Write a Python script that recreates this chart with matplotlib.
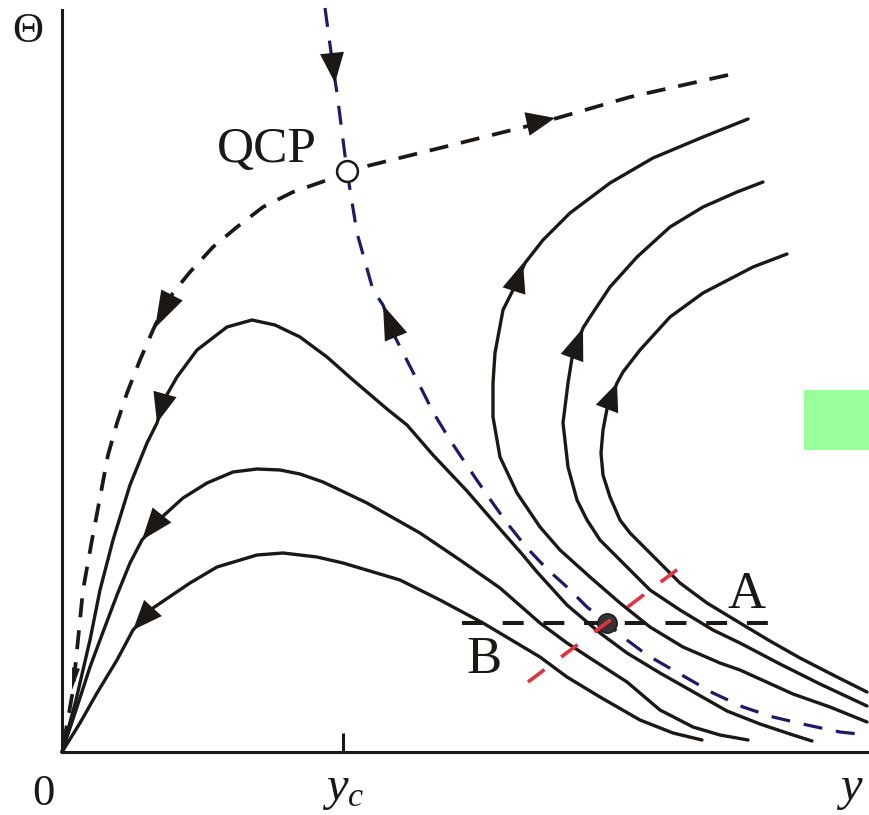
import numpy as np
import matplotlib
matplotlib.use('Agg')
import matplotlib.pyplot as plt
from matplotlib.patches import Polygon, Rectangle

plt.rcParams['font.family'] = ['Liberation Serif', 'DejaVu Serif']
plt.rcParams['mathtext.fontset'] = 'custom'
plt.rcParams['mathtext.rm'] = 'Liberation Serif'
plt.rcParams['mathtext.it'] = 'Liberation Serif:italic'
plt.rcParams['lines.scale_dashes'] = False

# flow diagram in the (y, Theta) plane
y_c = 281
y_end = 807
theta_top = 742
qcp = (285, 581)
fixed_pt = (545, 129)

# separatrix through QCP (blue, dashed)
sep_blue = np.array([
    (263, 744), (271, 685), (275, 659), (285, 581), (295, 519), (311, 462),
    (321, 447), (333, 415), (355, 372), (371, 340), (388, 312), (408, 282),
    (425, 257), (445, 229), (465, 204), (486, 182), (505, 165), (525, 145),
    (545, 129), (565, 112), (585, 97), (611, 82), (651, 59), (681, 45),
    (711, 35), (745, 27), (778, 20), (806, 17)])

# second separatrix through QCP (black, dashed)
sep_black = np.array([
    (666, 677), (568, 655), (478, 629), (378, 604), (285, 581), (271, 574),
    (231, 560), (201, 545), (175, 525), (151, 505), (128, 480), (111, 459),
    (98, 437), (91, 422), (78, 392), (65, 359), (55, 329), (46, 297),
    (40, 265), (30, 212), (21, 162), (16, 112), (11, 62), (4, 22), (0, 0)])

# flows running into the origin
hump1 = np.array([
    (750, 11), (728, 18), (698, 28), (665, 41), (628, 62), (598, 79),
    (565, 99), (538, 119), (505, 147), (475, 180), (460, 198), (438, 223),
    (405, 261), (371, 297), (345, 327), (325, 343), (291, 372), (265, 395),
    (238, 415), (213, 427), (190, 432), (165, 425), (135, 402), (115, 375),
    (103, 354), (95, 329), (85, 309), (68, 267), (51, 212), (38, 162),
    (28, 112), (14, 52), (0, 0)])
hump2 = np.array([
    (686, 12), (658, 17), (631, 25), (598, 42), (565, 70), (531, 92),
    (505, 109), (478, 129), (438, 164), (398, 192), (358, 219), (305, 249),
    (261, 270), (238, 278), (218, 282), (195, 283), (171, 280), (145, 269),
    (121, 254), (100, 235), (80, 212), (68, 189), (55, 157), (41, 120),
    (28, 85), (15, 45), (0, 0)])
hump3 = np.array([
    (640, 12), (611, 19), (578, 32), (538, 55), (505, 75), (478, 95),
    (421, 129), (378, 152), (338, 172), (281, 189), (255, 195), (221, 199),
    (195, 197), (155, 185), (128, 169), (91, 144), (71, 122), (55, 92),
    (35, 59), (18, 29), (0, 0)])

# flows turning back up on the other side
turn1 = np.array([
    (805, 30), (768, 45), (731, 58), (678, 82), (658, 89), (621, 105),
    (588, 125), (558, 149), (528, 175), (498, 202), (478, 225), (455, 259),
    (438, 295), (431, 335), (431, 369), (433, 399), (441, 442), (452, 464),
    (463, 489), (481, 512), (508, 539), (548, 569), (591, 594), (641, 615),
    (686, 633)])
turn2 = np.array([
    (805, 46), (758, 68), (718, 88), (678, 109), (651, 122), (618, 142),
    (588, 162), (561, 189), (538, 212), (525, 232), (515, 252), (506, 285),
    (501, 329), (506, 369), (510, 394), (521, 424), (528, 435), (548, 465),
    (575, 495), (608, 525), (641, 545), (675, 560), (701, 570)])
turn3 = np.array([
    (805, 60), (775, 75), (738, 94), (708, 111), (678, 129), (645, 149),
    (618, 169), (595, 192), (568, 219), (558, 232), (548, 255), (541, 277),
    (539, 299), (541, 322), (545, 343), (555, 369), (561, 380), (578, 402),
    (608, 435), (641, 459), (691, 485), (725, 498)])

# arrow heads: tip, base centre, half width
arrow_tips = np.array([
    (273, 669), (321, 447), (493, 634), (93, 424), (10, 62),
    (95, 329), (80, 212), (71, 122), (461, 489), (521, 424), (555, 369)])
arrow_tails = np.array([
    (270, 699), (334, 415), (465, 628), (110, 457), (14, 84),
    (103, 358), (100, 237), (91, 144), (452, 461), (510, 394), (545, 343)])
arrow_half_w = [12, 12, 12, 12, 4, 12, 12, 12, 12, 12, 12]

# cut A-B and the transverse direction
cut_x = [400, 706]
cut_y = [129, 129]
red_x = [466, 616]
red_y = [70, 183]

green_box = (742, 302, 65, 60)

ink = '#1b1816'
navy = '#1c1a6c'

fig = plt.figure(figsize=(8.69, 8.15), dpi=100)
ax = fig.add_axes([0, 0, 1, 1])
ax.set_xlim(-62, 807)
ax.set_ylim(-63, 752)

for c in [hump1, hump2, hump3, turn1, turn2, turn3]:
    ax.plot(c[:, 0], c[:, 1], color=ink, lw=2.4, solid_capstyle='round',
            solid_joinstyle='round', zorder=2)

ax.plot(sep_black[:, 0], sep_black[:, 1], color=ink, lw=2.7,
        linestyle=(0, (13.7, 9.4)), zorder=2)
ax.plot(sep_blue[:, 0], sep_blue[:, 1], color=navy, lw=2.3,
        linestyle=(0, (13.7, 10)), zorder=3)

for tip, tail, w in zip(arrow_tips, arrow_tails, arrow_half_w):
    d = tip - tail
    u = d / np.hypot(*d)
    n = np.array([-u[1], u[0]])
    tri = [tip, tail + n * w, tail - n * w]
    ax.add_patch(Polygon(tri, closed=True, fc=ink, ec='none', zorder=4))

ax.plot(cut_x, cut_y, color=ink, lw=2.9, linestyle=(0, (15.1, 14.2)), zorder=5)
ax.plot(*fixed_pt, 'o', ms=14, mfc='#333333', mec=ink, mew=1, zorder=6)
ax.plot(red_x, red_y, color='#e8313f', lw=2.6, linestyle=(0, (14.8, 15.1)), zorder=7)
ax.plot(*qcp, 'o', ms=15, mfc='white', mec=ink, mew=1.8, zorder=6)

ax.add_patch(Rectangle(green_box[:2], green_box[2], green_box[3],
                       fc='#99ff99', ec='none'))

# axes
for s in ['top', 'right']:
    ax.spines[s].set_visible(False)
ax.spines['left'].set_position(('data', 0))
ax.spines['bottom'].set_position(('data', 0))
ax.spines['left'].set_bounds(0, theta_top)
ax.spines['bottom'].set_bounds(0, y_end)
ax.spines['left'].set_linewidth(2.2)
ax.spines['bottom'].set_linewidth(2.2)
ax.spines['left'].set_color(ink)
ax.spines['bottom'].set_color(ink)
ax.set_yticks([])
ax.set_xticks([y_c])
ax.set_xticklabels([])
ax.tick_params(axis='x', direction='in', length=13.5, width=2.2, color=ink)

ax.text(-34, 720, '\u0398', fontsize=31, ha='center', va='center', color=ink)
ax.text(-19, -53, '0', fontsize=32, ha='center', va='baseline', color=ink)
ax.text(y_c, -48, '$y_c$', fontsize=35, ha='center', va='baseline', color=ink)
ax.text(788, -48, '$y$', fontsize=35, ha='center', va='baseline', color=ink)
ax.text(205, 590, 'QCP', fontsize=37, ha='center', va='baseline', color=ink)
ax.text(685, 144, 'A', fontsize=38, ha='center', va='baseline', color=ink)
ax.text(422, 79, 'B', fontsize=38, ha='center', va='baseline', color=ink)

fig.savefig('out.png', dpi=100)
